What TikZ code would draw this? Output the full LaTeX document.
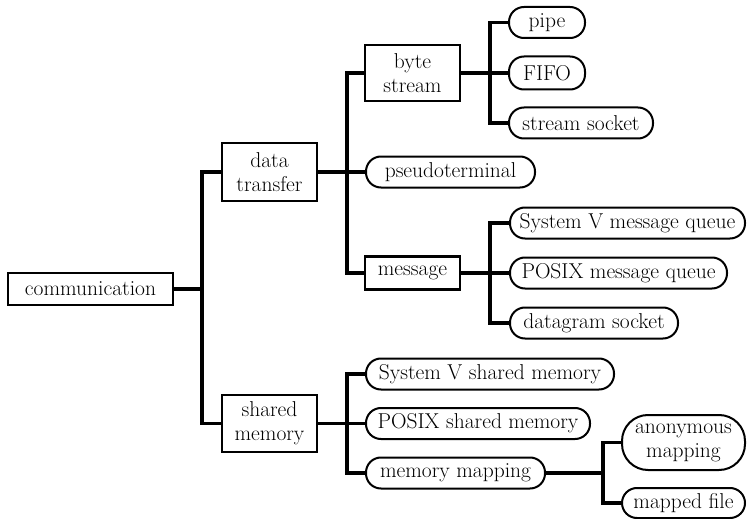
\documentclass[tikz,border=0pt]{standalone}
\begin{document}
\begin{tikzpicture}[x=1pt,y=-1pt,
  every node/.style={font=\fontsize{21.5}{24}\selectfont, inner sep=0pt, align=center, text=black},
  sqbox/.style={draw, line width=2.2pt, minimum width=#1},
  pill/.style={draw, line width=2pt, rounded corners=15pt, minimum width=#1, minimum height=31pt},
  conn/.style={line width=3.2pt, line join=miter, line cap=butt}]
\useasboundingbox (0,0) rectangle (748,519);
% trunk x positions
\coordinate (t1) at (202,0);
\coordinate (t2) at (347,0);
\coordinate (t3) at (490,0);
\coordinate (t4) at (603,0);
% nodes
\node[sqbox=165, minimum height=32pt] (comm) at (90.5,289) {communication};
\node[sqbox=95, minimum height=58pt] (dt) at (269.5,172) {data\\transfer};
\node[sqbox=95, minimum height=57pt] (sm) at (269.5,423.5) {shared\\memory};
\node[sqbox=95, minimum height=56pt] (bs) at (412.5,73) {byte\\stream};
\node[pill=169] (pt) at (450.5,172) {pseudoterminal};
\node[sqbox=95, minimum height=33pt] (msg) at (412.5,273) {message};
\node[pill=76] (pipe) at (547,22.5) {pipe};
\node[pill=76, minimum height=33pt] (fifo) at (547,73) {FIFO};
\node[pill=144] (ss) at (581,123) {stream socket};
\node[pill=235] (svmq) at (627.5,223) {System V message queue};
\node[pill=217] (pmq) at (618.5,273) {POSIX message queue};
\node[pill=168] (dg) at (594,323) {datagram socket};
\node[pill=248] (svshm) at (490,374) {System V shared memory};
\node[pill=224] (pshm) at (478,423.5) {POSIX shared memory};
\node[pill=179] (mm) at (455.5,473) {memory mapping};
\node[draw, line width=2pt, rounded corners=26pt, minimum width=123pt, minimum height=55pt] (am) at (683.5,442.5) {anonymous\\mapping};
\node[pill=123, minimum height=30pt] (mf) at (683.5,503) {mapped file};
% connectors
\draw[conn] (comm.east) -- (comm.east -| t1);
\draw[conn] (dt.west) -- (dt.west -| t1) |- (sm.west);
\draw[conn] (dt.east) -- (pt.west);
\draw[conn] (bs.west) -- (bs.west -| t2) |- (msg.west);
\draw[conn] (sm.east) -- (pshm.west);
\draw[conn] (svshm.west) -- (svshm.west -| t2) |- (mm.west);
\draw[conn] (bs.east) -- (fifo.west);
\draw[conn] (pipe.west) -- (pipe.west -| t3) |- (ss.west);
\draw[conn] (msg.east) -- (pmq.west);
\draw[conn] (svmq.west) -- (svmq.west -| t3) |- (dg.west);
\draw[conn] (mm.east) -- (mm.east -| t4);
\draw[conn] (am.west) -- (am.west -| t4) |- (mf.west);
\end{tikzpicture}
\end{document}
